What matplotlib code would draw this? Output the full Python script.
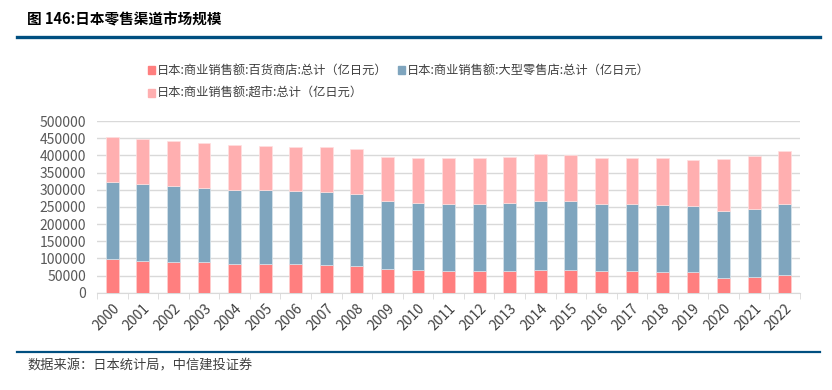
import numpy as np
import matplotlib
matplotlib.use('Agg')
import matplotlib.pyplot as plt
from matplotlib.patches import Rectangle
from matplotlib.lines import Line2D

plt.rcParams['font.family'] = ['Noto Sans CJK SC', 'DejaVu Sans']

years = [str(y) for y in range(2000, 2023)]
# stacked tops (亿日元)
dept_top  = [97000, 92000, 90000, 88000, 85000, 84500, 83500, 81000, 79000, 69000, 66000, 63000,
             63000, 64000, 66000, 66000, 63000, 62000, 61000, 60000, 44000, 46000, 51000]
large_top = [323000, 317000, 311000, 305000, 300000, 298000, 295000, 294000, 287000, 267000, 261000, 259000,
             259000, 261000, 267000, 266000, 258000, 258000, 256000, 253000, 239000, 244000, 258000]
total_top = [453000, 448000, 441000, 436000, 430000, 427000, 423000, 423000, 418000, 395000, 391000, 391000,
             391000, 395000, 404000, 401000, 391000, 391000, 391000, 387000, 389000, 398000, 414000]

dept = np.array(dept_top)
large = np.array(large_top) - dept
superm = np.array(total_top) - np.array(large_top)

names = ['日本:商业销售额:百货商店:总计（亿日元）',
         '日本:商业销售额:大型零售店:总计（亿日元）',
         '日本:商业销售额:超市:总计（亿日元）']
colors = ['#FF7F7F', '#7FA5BE', '#FFAFB0']

fig = plt.figure(figsize=(8.32, 3.90), dpi=100)
ax = fig.add_axes([0.1166, 0.2495, 0.845, 0.4402])

x = np.arange(len(years))
w = 0.42
ax.bar(x, dept, w, color=colors[0], edgecolor='#FFD0D0', linewidth=0.5, zorder=3)
ax.bar(x, large, w, bottom=dept, color=colors[1], edgecolor='#D8E4EC', linewidth=0.5, zorder=3)
ax.bar(x, superm, w, bottom=dept + large, color=colors[2], edgecolor='#FFE0E0', linewidth=0.5, zorder=3)

ax.set_xlim(-0.5, len(years) - 0.5)
ax.set_ylim(0, 500000)
ax.set_yticks(np.arange(0, 500001, 50000))
ax.set_yticklabels([str(v) for v in range(0, 500001, 50000)], fontsize=10, color='#595959')
ax.yaxis.grid(True, color='#D9D9D9', linewidth=1, zorder=0)
ax.tick_params(axis='y', length=0, pad=8)

ax.set_xticks(x)
ax.set_xticklabels(years, rotation=45, ha='right', rotation_mode='anchor', fontsize=10, color='#404040')
ax.set_xticks(np.arange(-0.5, len(years), 1), minor=True)
ax.tick_params(axis='x', which='major', length=0, pad=6)
ax.tick_params(axis='x', which='minor', length=4, color='#D9D9D9')
for s in ['top', 'right', 'left']:
    ax.spines[s].set_visible(False)
ax.spines['bottom'].set_color('#D9D9D9')

# legend drawn manually in figure pixels
def legend_item(px, py, col, label):
    fig.patches.append(Rectangle((px / 832, 1 - (py + 4) / 390), 7 / 832, 8 / 390,
                                 transform=fig.transFigure, color=col))
    fig.text((px + 9) / 832, 1 - py / 390, label, fontsize=8.8, color='#404040', va='center')

legend_item(148, 70, colors[0], names[0])
legend_item(398, 70, colors[1], names[1])
legend_item(148, 93, colors[2], names[2])

# title and rules
fig.text(27 / 832, 1 - 19 / 390, '图 146:日本零售渠道市场规模', fontsize=10.5, fontweight='bold',
         va='center', color='black')
fig.add_artist(Line2D([17 / 832, 820 / 832], [1 - 37 / 390, 1 - 37 / 390], color='#004F80',
                      linewidth=2.4, transform=fig.transFigure))
fig.add_artist(Line2D([17 / 832, 820 / 832], [1 - 352 / 390, 1 - 352 / 390], color='#004F80',
                      linewidth=1.6, transform=fig.transFigure))
fig.text(27 / 832, 1 - 366 / 390, '数据来源：日本统计局，中信建投证券', fontsize=9.5, style='italic',
         va='center', color='#404040')

fig.savefig('out.png', dpi=100)
